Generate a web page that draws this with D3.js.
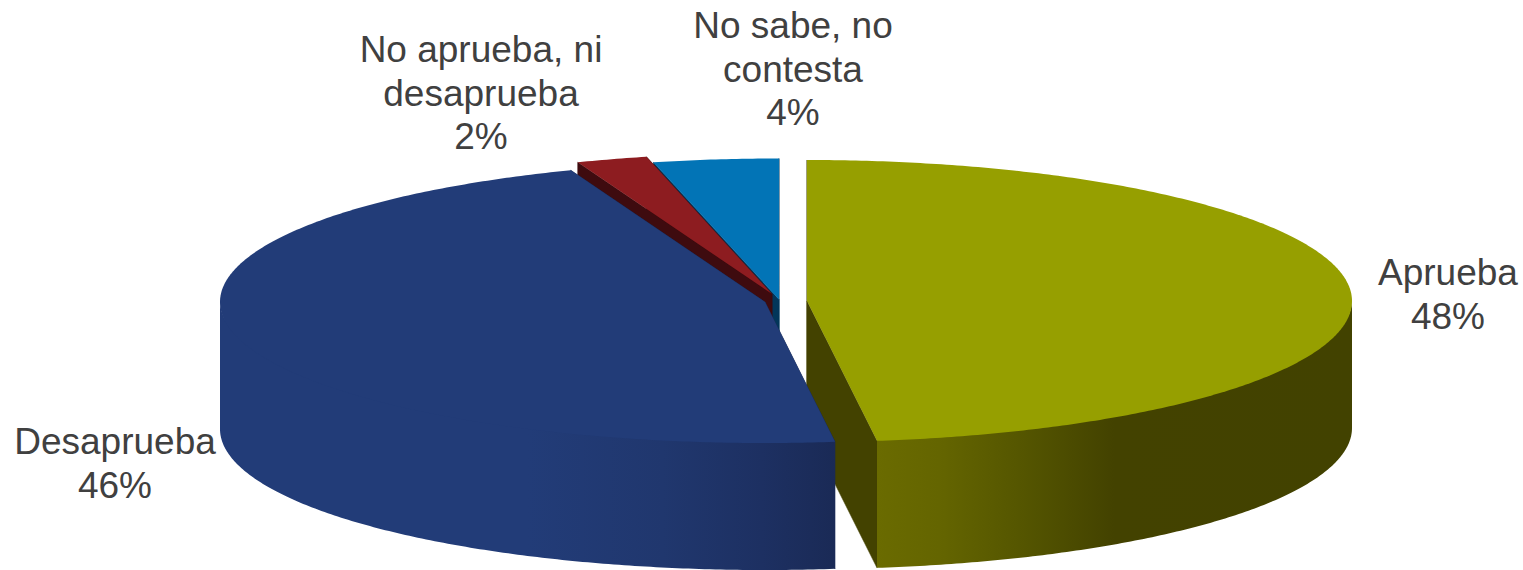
<!DOCTYPE html>
<html>
<head>
<meta charset="utf-8">
<script src="https://cdn.jsdelivr.net/npm/d3@7/dist/d3.min.js"></script>
<style>
html,body{margin:0;padding:0;background:#fff;overflow:hidden}
svg{display:block}
text{font-family:"Liberation Sans",Arial,sans-serif;font-size:37px;fill:#404040;text-anchor:middle}
</style>
</head>
<body>
<svg id="chart" width="1523" height="570"></svg>
<script>
// Data
const categories = ["Aprueba", "Desaprueba", "No aprueba, ni desaprueba", "No sabe, no contesta"];
const values = [47.95, 46.25, 2.1, 3.7];
const labelLines = [["Aprueba"], ["Desaprueba"], ["No aprueba, ni", "desaprueba"], ["No sabe, no", "contesta"]];

// Styling and layout, separate from the data
const topColors  = ["#969f00", "#223c78", "#8d1c20", "#0274b6"];
const faceColors = ["#434200", "#1a2a56", "#3e0b0f", "#02365a"];
// Stops run from the cut edge of the wall outward
const wallStops  = [
  [[0, "#6a6b00"], [0.13, "#646500"], [0.3, "#555600"], [0.5, "#434200"], [1, "#424200"]],
  [[0, "#1a2a56"], [0.12, "#1d3062"], [0.28, "#20376e"], [0.5, "#223c78"], [1, "#223c78"]],
  [], []
];
const centers = [[807, 301], [765, 302], [772, 294], [779, 299.5]];
const labelAnchors = [[1448, 285], [115, 454], [481, 62], [793, 38]];
const lineStep = 43.5;
const rx = 545, ry = 141, depth = 127;
const seamOverlap = 1.5;
const drawOrder = [0, 3, 2, 1];

const svg = d3.select("#chart");
const defs = svg.append("defs");
const pie = d3.pie().sort(null).value(d => d);
const arcs = pie(values);

// Scales from unit-circle coordinates to screen offsets
const sx = d3.scaleLinear().domain([-1, 1]).range([-rx, rx]);
const sy = d3.scaleLinear().domain([-1, 1]).range([-ry, ry]);
const point = (c, a, dz = 0) => [c[0] + sx(Math.sin(a)), c[1] + sy(-Math.cos(a)) + dz];
const line = d3.line();
const sample = (a0, a1) => {
  const n = Math.max(2, Math.ceil(Math.abs(a1 - a0) / 0.01));
  return d3.range(n + 1).map(i => a0 + (a1 - a0) * i / n);
};

drawOrder.forEach(i => {
  const d = arcs[i], c = centers[i];
  const g = svg.append("g").attr("class", "slice");

  // Flat cut faces: end edge first, then start edge
  [d.endAngle, d.startAngle].forEach(a => {
    g.append("path")
      .attr("d", line([[c[0], c[1]], point(c, a), point(c, a, depth), [c[0], c[1] + depth]]) + "Z")
      .attr("fill", faceColors[i])
      .attr("stroke", faceColors[i])
      .attr("stroke-width", 0.6);
  });

  // Outer wall, only the part facing the viewer
  const a0 = Math.max(d.startAngle, Math.PI / 2);
  const a1 = Math.min(d.endAngle, 3 * Math.PI / 2);
  if (a1 > a0) {
    const id = "wall" + i;
    // The gradient starts at the wall end nearest the front cut edge
    const nearAngle = Math.abs(a1 - Math.PI) < Math.abs(a0 - Math.PI) ? a1 : a0;
    const farAngle = nearAngle === a0 ? a1 : a0;
    const grad = defs.append("linearGradient").attr("id", id)
      .attr("gradientUnits", "userSpaceOnUse")
      .attr("x1", point(c, nearAngle)[0]).attr("x2", point(c, farAngle)[0])
      .attr("y1", 0).attr("y2", 0);
    wallStops[i].forEach(s => {
      grad.append("stop").attr("offset", s[0]).attr("stop-color", s[1]);
    });
    // The wall runs slightly under the top face so no seam shows between them
    const upper = sample(a0, a1).map(a => point(c, a, -seamOverlap));
    const lower = sample(a1, a0).map(a => point(c, a, depth));
    g.append("path").attr("d", line(upper.concat(lower)) + "Z").attr("fill", `url(#${id})`);
  }

  // Top face
  const top = sample(d.startAngle, d.endAngle).map(a => point(c, a));
  g.append("path").attr("d", line([[c[0], c[1]]].concat(top)) + "Z").attr("fill", topColors[i]);
});

// Labels
categories.forEach((name, i) => {
  const lines = labelLines[i].concat(Math.round(values[i]) + "%");
  const t = svg.append("text").attr("aria-label", name);
  lines.forEach((s, j) => {
    t.append("tspan")
      .attr("x", labelAnchors[i][0])
      .attr("y", labelAnchors[i][1] + j * lineStep)
      .text(s);
  });
});
</script>
</body>
</html>
